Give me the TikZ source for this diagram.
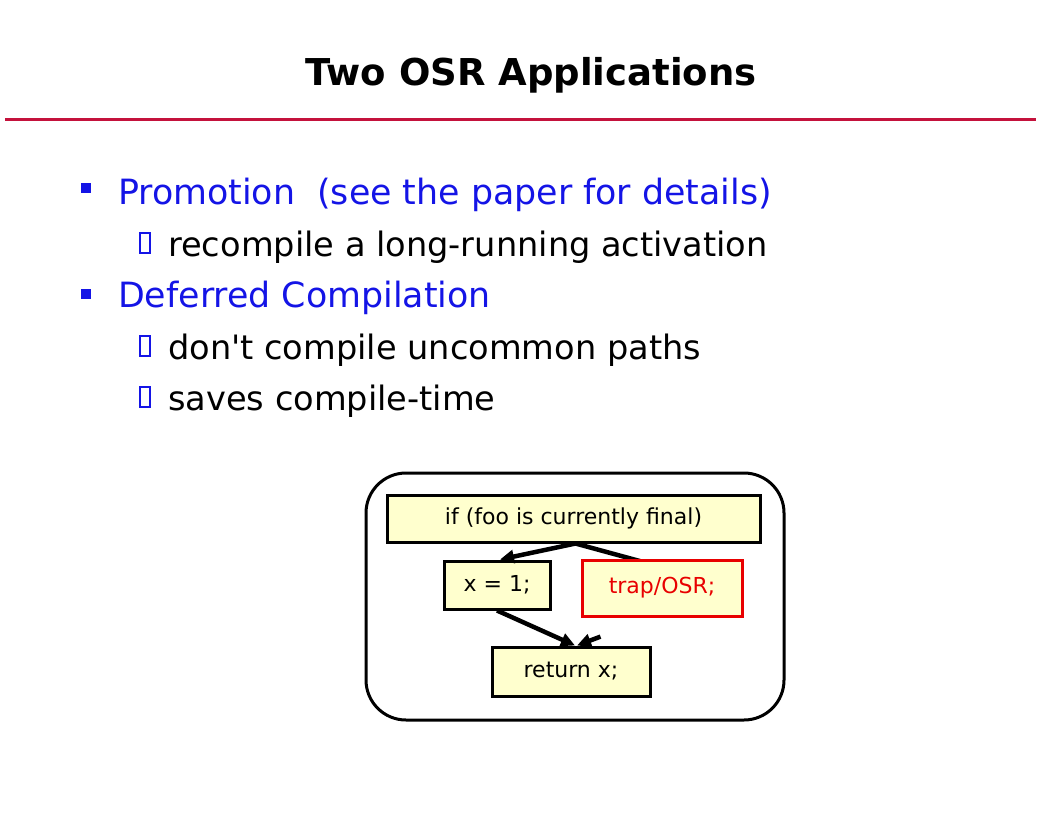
\documentclass[tikz,border=0pt]{standalone}
\usepackage{fontspec}
\setmainfont{DejaVu Sans}
\usepackage{tikz}
\usetikzlibrary{arrows.meta,positioning,calc}
\definecolor{rulered}{RGB}{196,18,60}
\definecolor{boxyellow}{RGB}{255,255,206}
\definecolor{itemblue}{RGB}{20,20,230}
\definecolor{trapred}{RGB}{232,0,0}

\begin{document}
\begin{tikzpicture}[
  x=1pt, y=-1pt,
  title/.style={font=\fontsize{37}{42}\selectfont\bfseries, anchor=base},
  item/.style={font=\fontsize{34.8}{38}\selectfont, anchor=base west, inner sep=0pt, text=itemblue},
  subitem/.style={font=\fontsize{33.6}{38}\selectfont, anchor=base west, inner sep=0pt},
  itemmark/.style={rectangle, fill=itemblue, minimum size=10pt, inner sep=0pt},
  hollow/.style={rectangle, draw=itemblue, line width=1.3pt, minimum width=10pt, minimum height=20pt, inner sep=0pt},
  box/.style={rectangle, draw, line width=3pt, fill=boxyellow, inner sep=0pt, font=\fontsize{22}{25}\selectfont},
  arrow/.style={-{Triangle[length=14pt,width=13pt]}, line width=4.5pt}
]
\useasboundingbox (0,0) rectangle (1054,816);

% Title
\node[title] (head) at (531,85) {Two OSR Applications};
\coordinate (ruleL) at (5,119);
\coordinate (ruleR) at (1036,119);
\draw[rulered, line width=3pt] (ruleL) -- (ruleR);

% Bullets
\node[itemmark] (m1) at (86,188) {};
\node[item] (p1) at (118,204) {Promotion\ \ (see the paper for details)};
\node[hollow] (h1) at (145,243) {};
\node[subitem] (p1a) at (168,256) {recompile a long-running activation};
\node[itemmark] (m2) at (86,294) {};
\node[item] (p2) at (118,307) {Deferred Compilation};
\node[hollow] (h2) at (145,346) {};
\node[subitem] (p2a) at (168,359) {don\textquotesingle t compile uncommon paths};
\node[hollow] (h3) at (145,397) {};
\node[subitem] (p2b) at (168,410) {saves compile-time};

% Frame
\node[rectangle, draw, line width=3pt, rounded corners=40pt, minimum width=418pt, minimum height=247pt] (frame) at (575,596.5) {};

% Code blocks
\node[box, minimum width=373pt, minimum height=47pt] (cond) at (573.5,518.5) {if (foo is currently final)};
\node[box, minimum width=106pt, minimum height=48pt] (assign) at (497,585) {x = 1;};
\node[box, minimum width=158pt, minimum height=49pt] (ret) at (571,671.5) {return x;};

% Arrows
\coordinate (under) at (680,572);
\draw[arrow] ($(cond.south)+(2,0)$) -- ($(assign.north)+(3,0)$);
\draw[line width=4.5pt] ($(cond.south)+(2,0)$) -- (under);
\draw[arrow] (assign.south) -- ($(ret.north)+(4,0)$);

% Trap
\node[box, draw=trapred, text=trapred, minimum width=160pt, minimum height=56pt] (trap) at (662,588) {trap/OSR;};
\draw[arrow, shorten <=54pt] ($(trap.south)+(-11,0)$) -- ($(ret.north)+(6,0)$);

\end{tikzpicture}
\end{document}
